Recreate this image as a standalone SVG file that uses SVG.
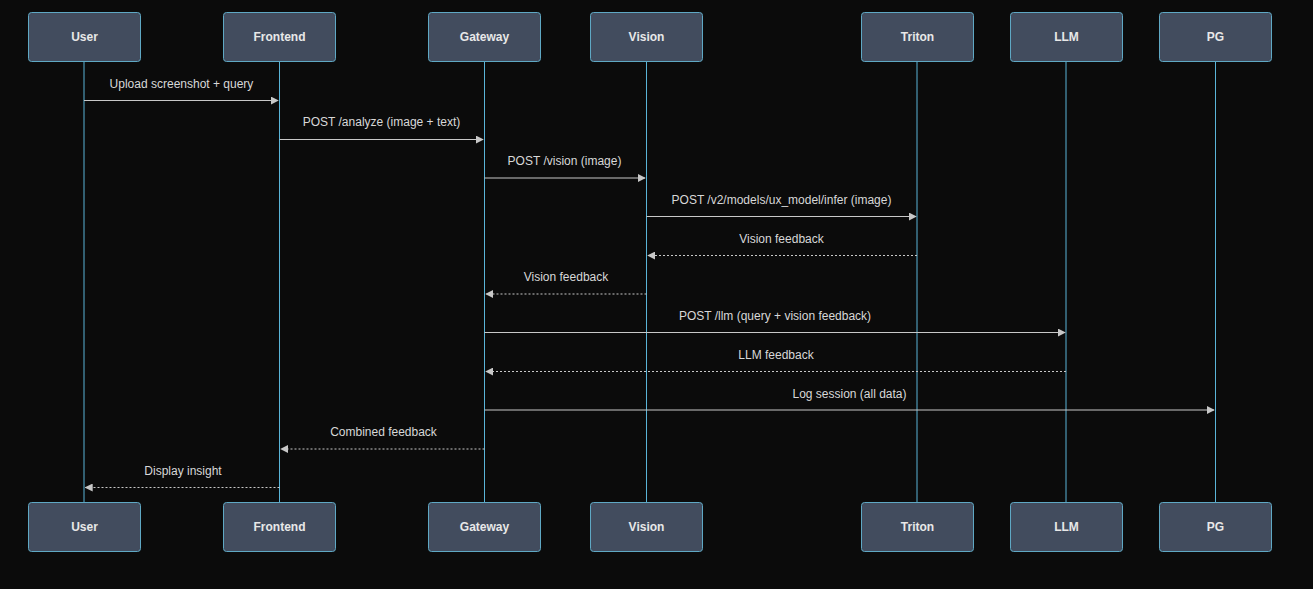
<svg xmlns="http://www.w3.org/2000/svg" width="1313" height="589" viewBox="0 0 1313 589">
<style>
.bg{fill:#0b0b0b}
.box rect{fill:#424c5e;stroke:#5fa8c4;stroke-width:1}
.box text{fill:#e8e8e8;font-family:"Liberation Sans",Arial,sans-serif;font-size:12px;font-weight:bold;text-anchor:middle;dominant-baseline:central}
.life{stroke:#5ab4d8;stroke-width:1}
.msg{stroke:#c8c8c8;stroke-width:1;fill:none}
.dash{stroke-dasharray:2,2}
.lbl{fill:#d8d8d8;font-family:"Liberation Sans",Arial,sans-serif;font-size:12px;text-anchor:middle}
</style>
<defs>
<marker id="ah" viewBox="0 0 10 10" refX="9" refY="5" markerWidth="8" markerHeight="8" orient="auto-start-reverse" markerUnits="userSpaceOnUse">
<path d="M0,0 L10,5 L0,10 z" fill="#c8c8c8"/>
</marker>
</defs>
<rect class="bg" x="0" y="0" width="1313" height="589"/>
<g id="lifelines">
<line class="life" x1="84" y1="61" x2="84" y2="502"/>
<line class="life" x1="279.5" y1="61" x2="279.5" y2="502"/>
<line class="life" x1="484.5" y1="61" x2="484.5" y2="502"/>
<line class="life" x1="646.5" y1="61" x2="646.5" y2="502"/>
<line class="life" x1="917" y1="61" x2="917" y2="502"/>
<line class="life" x1="1066" y1="61" x2="1066" y2="502"/>
<line class="life" x1="1215.5" y1="61" x2="1215.5" y2="502"/>
</g>
<g id="node-user" class="box"><rect x="28.5" y="12.5" width="112" height="49" rx="3"/><text x="84.5" y="37">User</text><rect x="28.5" y="502.5" width="112" height="49" rx="3"/><text x="84.5" y="527">User</text></g>
<g id="node-frontend" class="box"><rect x="223.5" y="12.5" width="112" height="49" rx="3"/><text x="279.5" y="37">Frontend</text><rect x="223.5" y="502.5" width="112" height="49" rx="3"/><text x="279.5" y="527">Frontend</text></g>
<g id="node-gateway" class="box"><rect x="428.5" y="12.5" width="112" height="49" rx="3"/><text x="484.5" y="37">Gateway</text><rect x="428.5" y="502.5" width="112" height="49" rx="3"/><text x="484.5" y="527">Gateway</text></g>
<g id="node-vision" class="box"><rect x="590.5" y="12.5" width="112" height="49" rx="3"/><text x="646.5" y="37">Vision</text><rect x="590.5" y="502.5" width="112" height="49" rx="3"/><text x="646.5" y="527">Vision</text></g>
<g id="node-triton" class="box"><rect x="861.5" y="12.5" width="112" height="49" rx="3"/><text x="917.5" y="37">Triton</text><rect x="861.5" y="502.5" width="112" height="49" rx="3"/><text x="917.5" y="527">Triton</text></g>
<g id="node-llm" class="box"><rect x="1010.5" y="12.5" width="112" height="49" rx="3"/><text x="1066.5" y="37">LLM</text><rect x="1010.5" y="502.5" width="112" height="49" rx="3"/><text x="1066.5" y="527">LLM</text></g>
<g id="node-pg" class="box"><rect x="1159.5" y="12.5" width="112" height="49" rx="3"/><text x="1215.5" y="37">PG</text><rect x="1159.5" y="502.5" width="112" height="49" rx="3"/><text x="1215.5" y="527">PG</text></g>
<g id="connectors">
<line class="msg" x1="84" y1="100.5" x2="278" y2="100.5" marker-end="url(#ah)"/>
<text class="lbl" x="181.5" y="88">Upload screenshot + query</text>
<line class="msg" x1="279.5" y1="139.5" x2="483" y2="139.5" marker-end="url(#ah)"/>
<text class="lbl" x="381.5" y="126">POST /analyze (image + text)</text>
<line class="msg" x1="484.5" y1="178" x2="645" y2="178" marker-end="url(#ah)"/>
<text class="lbl" x="564.5" y="165">POST /vision (image)</text>
<line class="msg" x1="646.5" y1="216.5" x2="916" y2="216.5" marker-end="url(#ah)"/>
<text class="lbl" x="781.5" y="204">POST /v2/models/ux_model/infer (image)</text>
<line class="msg dash" x1="917" y1="255.5" x2="648" y2="255.5" marker-end="url(#ah)"/>
<text class="lbl" x="781.5" y="243">Vision feedback</text>
<line class="msg dash" x1="646.5" y1="294" x2="486" y2="294" marker-end="url(#ah)"/>
<text class="lbl" x="566" y="281">Vision feedback</text>
<line class="msg" x1="484.5" y1="332.5" x2="1065" y2="332.5" marker-end="url(#ah)"/>
<text class="lbl" x="775" y="320">POST /llm (query + vision feedback)</text>
<line class="msg dash" x1="1066" y1="371.5" x2="486" y2="371.5" marker-end="url(#ah)"/>
<text class="lbl" x="776" y="359">LLM feedback</text>
<line class="msg" x1="484.5" y1="410" x2="1214" y2="410" marker-end="url(#ah)"/>
<text class="lbl" x="849.5" y="398">Log session (all data)</text>
<line class="msg dash" x1="484.5" y1="449" x2="281" y2="449" marker-end="url(#ah)"/>
<text class="lbl" x="383.5" y="436">Combined feedback</text>
<line class="msg dash" x1="279.5" y1="487.5" x2="85.5" y2="487.5" marker-end="url(#ah)"/>
<text class="lbl" x="183" y="475">Display insight</text>
</g>
</svg>
